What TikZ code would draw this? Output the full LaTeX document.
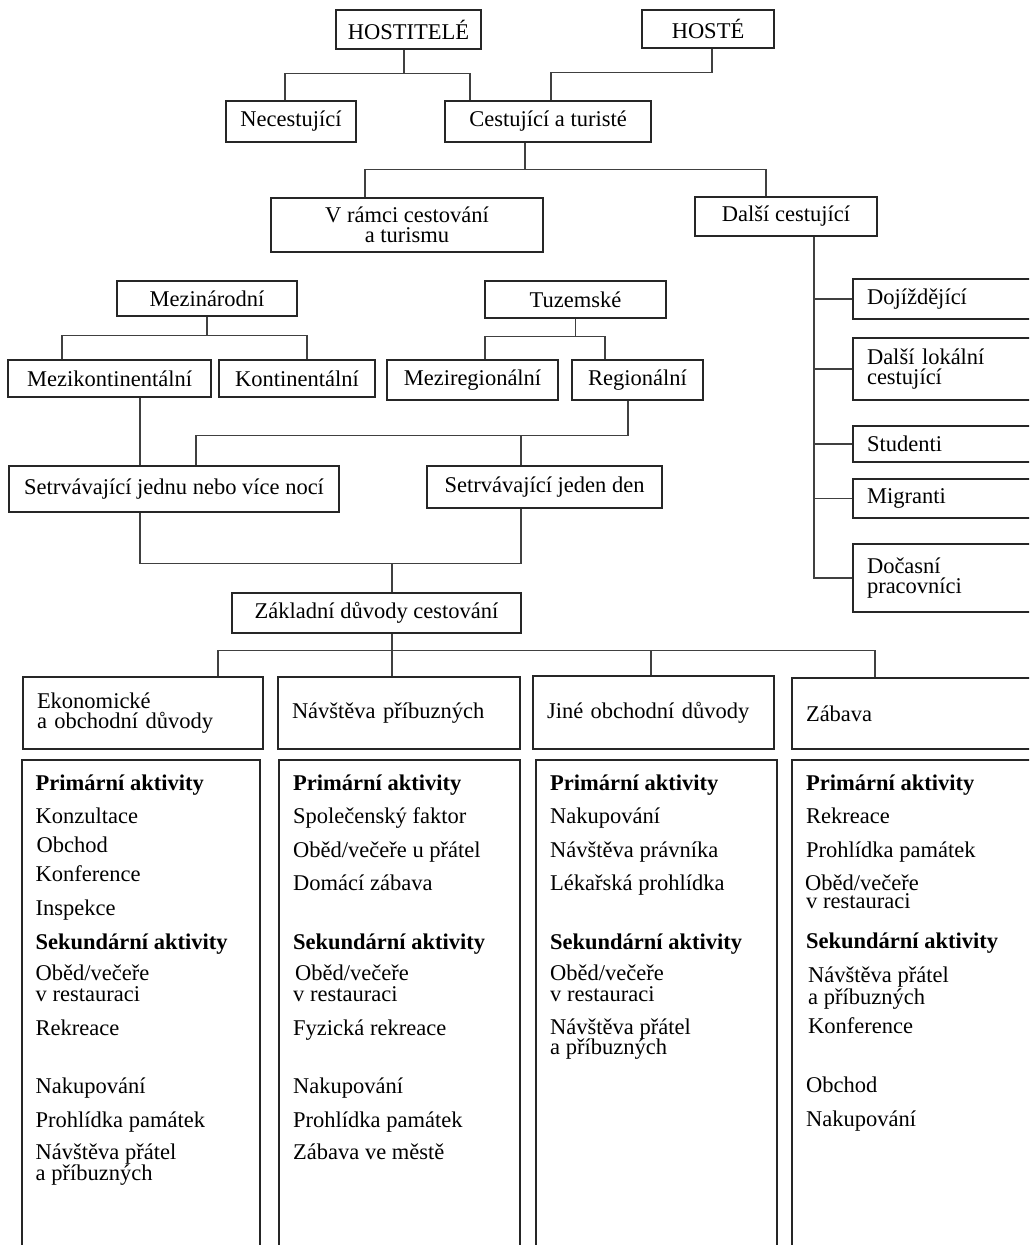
\documentclass[tikz,border=0pt]{standalone}
\usepackage{fontspec}
\setmainfont{Liberation Serif}
\newcommand{\diafs}{\fontsize{22.5pt}{20pt}\selectfont}
\begin{document}
\begin{tikzpicture}[x=1pt,y=-1pt,
  box/.style={draw=black!85, line width=1.6pt, inner sep=0pt, font=\diafs, align=center},
  lbox/.style={box, align=left, inner xsep=14pt, inner ysep=0pt},
  conn/.style={draw=black!75, line width=1.3pt},
  txt/.style={inner sep=0pt, anchor=base west, font=\diafs},
  hd/.style={txt, font=\diafs\bfseries}]
\useasboundingbox (0,0) rectangle (1029,1245);
\fill[white] (0,0) rectangle (1029,1245);
\clip (0,0) rectangle (1029,1245);

% top hierarchy
\node[box, minimum width=145pt, minimum height=39pt] (host) at (408.5,29.5) {HOSTITELÉ};
\node[box, minimum width=132pt, minimum height=38pt] (hoste) at (708,29) {HOSTÉ};
\node[box, minimum width=130pt, minimum height=41pt] (necest) at (291,121.5) {Necestující};
\node[box, minimum width=206pt, minimum height=41pt] (cest) at (548,121.5) {Cestující a turisté};
\node[box, minimum width=272pt, minimum height=54pt] (vramci) at (407,225) {V rámci cestování\\a turismu};
\node[box, minimum width=182pt, minimum height=39pt] (dalsi) at (786,216.5) {Další cestující};

% right column
\node[lbox, text width=164pt, minimum height=40pt] (doj) at (949,299) {Dojíždějící};
\node[lbox, text width=164pt, minimum height=62pt] (lok) at (949,369) {Další lokální\\cestující};
\node[lbox, text width=164pt, minimum height=36pt] (stud) at (949,444) {Studenti};
\node[lbox, text width=164pt, minimum height=39pt] (migr) at (949,498.5) {Migranti};
\node[lbox, text width=164pt, minimum height=68pt] (docas) at (949,578) {Dočasní\\pracovníci};

% middle
\node[box, minimum width=180pt, minimum height=35pt] (mezin) at (207,298.5) {Mezinárodní};
\node[box, minimum width=181pt, minimum height=37pt] (tuz) at (575.5,299.5) {Tuzemské};
\node[box, minimum width=203pt, minimum height=37pt] (mezik) at (109.5,378.5) {Mezikontinentální};
\node[box, minimum width=156pt, minimum height=37pt] (kont) at (297,378.5) {Kontinentální};
\node[box, minimum width=171pt, minimum height=40pt] (mezir) at (472.5,380) {Meziregionální};
\node[box, minimum width=131pt, minimum height=40pt] (reg) at (637.5,380) {Regionální};
\node[box, minimum width=330pt, minimum height=46pt] (setn) at (174,489) {Setrvávající jednu nebo více nocí};
\node[box, minimum width=235pt, minimum height=42pt] (setd) at (544.5,487) {Setrvávající jeden den};
\node[box, minimum width=289pt, minimum height=40pt] (zakl) at (376.5,613) {Základní důvody cestování};

% categories
\node[lbox, text width=212pt, minimum height=72pt] (eko) at (143,713) {Ekonomické\\a obchodní důvody};
\node[lbox, text width=214pt, minimum height=72pt] (nav) at (399,713) {Návštěva příbuzných};
\node[lbox, text width=213pt, minimum height=73pt] (jine) at (653.5,712.5) {Jiné obchodní důvody};
\node[lbox, text width=240pt, minimum height=71pt] (zab) at (926,713.5) {Zábava};

% content boxes
\node[box, minimum width=238pt, minimum height=520pt] (col1) at (141,1020) {};
\node[box, minimum width=241pt, minimum height=520pt] (col2) at (399.5,1020) {};
\node[box, minimum width=241pt, minimum height=520pt] (col3) at (656.5,1020) {};
\node[box, minimum width=268pt, minimum height=520pt] (col4) at (926,1020) {};

% column 1
\node[hd] (c1h1) at (35.5,790) {Primární aktivity};
\node[txt] (c1a) at (35.5,823) {Konzultace};
\node[txt] (c1b) at (36.5,852) {Obchod};
\node[txt] (c1c) at (35.5,881) {Konference};
\node[txt] (c1d) at (35.5,915) {Inspekce};
\node[hd] (c1h2) at (35.5,949) {Sekundární aktivity};
\node[txt] (c1e) at (35.5,980) {Oběd/večeře};
\node[txt] (c1f) at (35.5,1001) {v restauraci};
\node[txt] (c1g) at (35.5,1035) {Rekreace};
\node[txt] (c1h) at (35.5,1093) {Nakupování};
\node[txt] (c1i) at (35.5,1127) {Prohlídka památek};
\node[txt] (c1j) at (35.5,1159) {Návštěva přátel};
\node[txt] (c1k) at (35.5,1180) {a příbuzných};

% column 2
\node[hd] (c2h1) at (293,790) {Primární aktivity};
\node[txt] (c2a) at (293,823) {Společenský faktor};
\node[txt] (c2b) at (293,857) {Oběd/večeře u přátel};
\node[txt] (c2c) at (293,890) {Domácí zábava};
\node[hd] (c2h2) at (293,949) {Sekundární aktivity};
\node[txt] (c2d) at (295,980) {Oběd/večeře};
\node[txt] (c2e) at (293,1001) {v restauraci};
\node[txt] (c2f) at (293,1035) {Fyzická rekreace};
\node[txt] (c2g) at (293,1093) {Nakupování};
\node[txt] (c2h) at (293,1127) {Prohlídka památek};
\node[txt] (c2i) at (293,1159) {Zábava ve městě};

% column 3
\node[hd] (c3h1) at (550,790) {Primární aktivity};
\node[txt] (c3a) at (550,823) {Nakupování};
\node[txt] (c3b) at (550,857) {Návštěva právníka};
\node[txt] (c3c) at (550,890) {Lékařská prohlídka};
\node[hd] (c3h2) at (550,949) {Sekundární aktivity};
\node[txt] (c3d) at (550,980) {Oběd/večeře};
\node[txt] (c3e) at (550,1001) {v restauraci};
\node[txt] (c3f) at (550,1034) {Návštěva přátel};
\node[txt] (c3g) at (550,1054) {a příbuzných};

% column 4
\node[hd] (c4h1) at (806,790) {Primární aktivity};
\node[txt] (c4a) at (806,823) {Rekreace};
\node[txt] (c4b) at (806,857) {Prohlídka památek};
\node[txt] (c4c) at (805,890) {Oběd/večeře};
\node[txt] (c4d) at (806,908) {v restauraci};
\node[hd] (c4h2) at (806,948) {Sekundární aktivity};
\node[txt] (c4e) at (808,982) {Návštěva přátel};
\node[txt] (c4f) at (808,1004) {a příbuzných};
\node[txt] (c4g) at (808,1033) {Konference};
\node[txt] (c4h) at (806,1092) {Obchod};
\node[txt] (c4i) at (806,1126) {Nakupování};

% connectors
\draw[conn] ([xshift=-4.5pt]host.south) -- ++(0,24) coordinate (hj);
\draw[conn] ([xshift=-6pt]necest.north) |- (hj) -| ([xshift=-78pt]cest.north);
\draw[conn] ([xshift=4pt]hoste.south) -- ++(0,24) -| ([xshift=3pt]cest.north);
\draw[conn] ([xshift=-23pt]cest.south) -- ++(0,27) coordinate (cj);
\draw[conn] ([xshift=-42pt]vramci.north) |- (cj) -| ([xshift=-20pt]dalsi.north);
\coordinate (dv) at ([xshift=28pt]dalsi.south);
\foreach \n in {doj,lok,stud,migr,docas} \draw[conn] (dv) |- (\n.west);

\draw[conn] (mezin.south) -- ++(0,19) coordinate (mj);
\draw[conn] ([xshift=-47.5pt]mezik.north) |- (mj) -| ([xshift=10pt]kont.north);
\draw[conn] (tuz.south) -- ++(0,18) coordinate (tj);
\draw[conn] ([xshift=12.5pt]mezir.north) |- (tj) -| ([xshift=-32.5pt]reg.north);

\draw[conn] ([xshift=30.5pt]mezik.south) -- ([xshift=-34pt]setn.north);
\draw[conn] ([xshift=-9.5pt]reg.south) -- ++(0,35) coordinate (rj) -| ([xshift=22pt]setn.north);
\coordinate (sdn) at ([xshift=-23.5pt]setd.north);
\draw[conn] (sdn) -- (sdn |- rj);

\draw[conn] ([xshift=-34pt]setn.south) -- ++(0,51) coordinate (sj) -| ([xshift=-23.5pt]setd.south);
\coordinate (zn) at ([xshift=15.5pt]zakl.north);
\draw[conn] (zn) -- (zn |- sj);

\draw[conn] ([xshift=15.5pt]zakl.south) -- ++(0,17) coordinate (zj);
\draw[conn] ([xshift=75pt]eko.north) |- (zj) -| ([xshift=-51pt]zab.north);
\coordinate (nn) at ([xshift=-7pt]nav.north);
\draw[conn] (nn) -- (nn |- zj);
\coordinate (jn) at ([xshift=-2.5pt]jine.north);
\draw[conn] (jn) -- (jn |- zj);
\end{tikzpicture}
\end{document}
